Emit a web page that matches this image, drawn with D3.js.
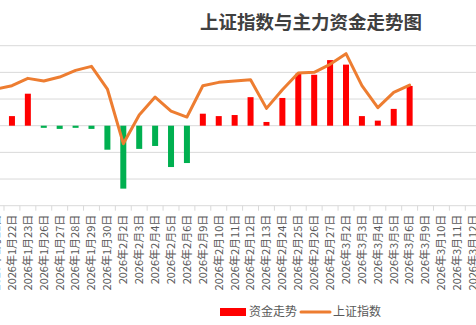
<!DOCTYPE html>
<html>
<head>
<meta charset="utf-8">
<script src="https://cdn.jsdelivr.net/npm/d3@7"></script>
<style>
  html, body { margin: 0; padding: 0; background: #fff; }
  svg { display: block; }
  text { font-family: "Noto Sans CJK SC", "Noto Sans", sans-serif; }
</style>
</head>
<body>
<svg id="chart" width="476" height="325"></svg>
<script>
// ---- data ----
const categories = [
  "2026年1月21日","2026年1月22日","2026年1月23日","2026年1月26日","2026年1月27日",
  "2026年1月28日","2026年1月29日","2026年1月30日","2026年2月2日","2026年2月3日",
  "2026年2月4日","2026年2月5日","2026年2月6日","2026年2月9日","2026年2月10日",
  "2026年2月11日","2026年2月12日","2026年2月13日","2026年2月24日","2026年2月25日",
  "2026年2月26日","2026年2月27日","2026年3月2日","2026年3月3日","2026年3月4日",
  "2026年3月5日","2026年3月6日","2026年3月9日","2026年3月10日","2026年3月11日",
  "2026年3月12日"
];
// 资金走势 (主力资金, 亿元)
const fundFlow = [
  null, 36, 120, -8, -12,
  -8, -12, -90, -236, -87,
  -76, -155, -140, 45, 36,
  40, 107, 14, 104, 195,
  191, 246, 229, 36, 19,
  63, 149, null, null, null,
  null
];
// 上证指数
const indexValues = [
  4135, 4140, 4151, 4147, 4153,
  4163, 4169, 4135, 4053, 4096,
  4123, 4102, 4093, 4140, 4145,
  4147, 4149, 4106, 4134, 4159,
  4160, 4172, 4188, 4140, 4107,
  4130, 4141, null, null, null,
  null
];
const fundTicks = [-300, -200, -100, 0, 100, 200, 300];
const titleText = "上证指数与主力资金走势图";
const legendLabels = ["资金走势", "上证指数"];

// ---- layout ----
const svg = d3.select("#chart");
const step = 15.907;
const x = d3.scaleBand()
  .domain(categories)
  .range([4 - step, 4 + step * (categories.length - 1)])
  .padding(0);
const yFund = d3.scaleLinear().domain([-300, 300]).range([205.7, 45.7]);
const yIndex = d3.scaleLinear().domain([3960, 4200]).range([205.7, 45.7]);

const gridColor = "#D9D9D9";
const textColor = "#595959";

// grid lines
svg.append("g").selectAll("line")
  .data(fundTicks)
  .join("line")
  .attr("x1", x.range()[0]).attr("x2", x.range()[1])
  .attr("y1", d => yFund(d)).attr("y2", d => yFund(d))
  .attr("stroke", gridColor).attr("stroke-width", 1);

// x axis with tick marks between categories
const xAxis = d3.axisBottom(x).tickSize(0).tickPadding(0);
const gx = svg.append("g")
  .attr("transform", `translate(0,${yFund(-300)})`)
  .call(xAxis);
gx.select(".domain").remove();
gx.selectAll("text")
  .attr("transform", "rotate(-90)")
  .attr("x", -9).attr("y", 0).attr("dy", "0.35em")
  .attr("text-anchor", "end")
  .attr("fill", textColor)
  .style("font-size", "11px");
// boundary tick marks
gx.selectAll(".bt")
  .data(categories)
  .join("line")
  .attr("class", "bt")
  .attr("x1", d => x(d)).attr("x2", d => x(d))
  .attr("y1", 0).attr("y2", 5)
  .attr("stroke", gridColor);

// bars
const barW = 6;
svg.append("g").selectAll("rect")
  .data(categories.map((c, i) => ({c, v: fundFlow[i]})).filter(d => d.v !== null))
  .join("rect")
  .attr("x", d => x(d.c) + x.bandwidth() / 2 - barW / 2)
  .attr("width", barW)
  .attr("y", d => Math.min(yFund(d.v), yFund(0)))
  .attr("height", d => Math.abs(yFund(d.v) - yFund(0)))
  .attr("fill", d => d.v >= 0 ? "#FF0000" : "#00B050");

// line
const line = d3.line()
  .defined(d => d.v !== null)
  .x(d => x(d.c) + x.bandwidth() / 2)
  .y(d => yIndex(d.v));
svg.append("path")
  .datum(categories.map((c, i) => ({c, v: indexValues[i]})))
  .attr("d", line)
  .attr("fill", "none")
  .attr("stroke", "#ED7D31")
  .attr("stroke-width", 3)
  .attr("stroke-linejoin", "round")
  .attr("stroke-linecap", "round");

// title
svg.append("text")
  .attr("x", 311).attr("y", 29)
  .attr("text-anchor", "middle")
  .attr("fill", "#404040")
  .style("font-size", "18.5px")
  .style("font-weight", "700")
  .text(titleText);

// legend
const lg = svg.append("g");
lg.append("rect").attr("x", 220).attr("y", 308).attr("width", 26).attr("height", 8).attr("fill", "#FF0000");
lg.append("text").attr("x", 249).attr("y", 312).attr("dy", "0.35em")
  .attr("fill", textColor).style("font-size", "12px").text(legendLabels[0]);
lg.append("line").attr("x1", 301).attr("x2", 330).attr("y1", 312).attr("y2", 312)
  .attr("stroke", "#ED7D31").attr("stroke-width", 3).attr("stroke-linecap", "round");
lg.append("text").attr("x", 333).attr("y", 312).attr("dy", "0.35em")
  .attr("fill", textColor).style("font-size", "12px").text(legendLabels[1]);
</script>
</body>
</html>
